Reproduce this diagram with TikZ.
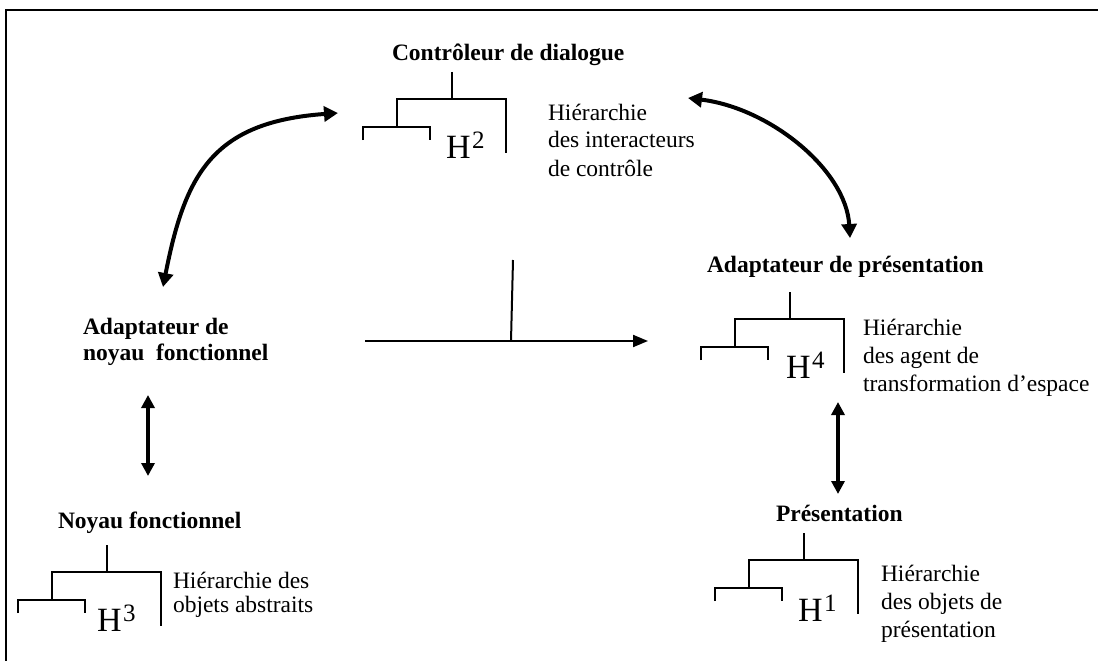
\documentclass[tikz,border=0pt]{standalone}
\usepackage{fontspec}
\setmainfont{Liberation Serif}
\usetikzlibrary{arrows.meta}
\newcommand\Hlab[1]{{\fontsize{34}{34}\selectfont H}\kern1.5pt\raisebox{10pt}{\fontsize{25}{25}\selectfont #1}}
\begin{document}
\begin{tikzpicture}[x=1pt,y=-1pt,
  every node/.style={inner sep=0pt, outer sep=0pt},
  title/.style={anchor=base west, font=\fontsize{23.5}{26}\selectfont\bfseries},
  desc/.style={anchor=base west, font=\fontsize{23.5}{28}\selectfont},
  hlabel/.style={anchor=base west},
  branch/.style={line width=2pt},
  frameline/.style={line width=2pt},
  bigarrow/.style={line width=4pt, {Triangle[length=14pt,width=15pt]}-{Triangle[length=14pt,width=15pt]}},
  vertarrow/.style={line width=3.5pt, {Triangle[length=13pt,width=13pt]}-{Triangle[length=13pt,width=13pt]}},
  flowarrow/.style={line width=2pt, -{Triangle[length=15pt,width=12pt]}},
  hier/.pic={
    \draw[branch] (0,0) -- (0,27);
    \draw[branch] (-55,55) -- (-55,27) -- (54,27) -- (54,81);
    \draw[branch] (-89,68) -- (-89,55) -- (-22,55) -- (-22,68);
  }
]
\useasboundingbox (0,0) rectangle (1098,661);
% frame
\draw[frameline] (6,661) -- (6,10) -- (1098,10);

% titles
\node[title] (ctrl) at (392,60) {Contrôleur de dialogue};
\node[title] (adpres) at (707,272) {Adaptateur de présentation};
\node[title] (adnf) at (83,334) {\begin{tabular}[t]{@{}l@{}}Adaptateur de\\noyau~ fonctionnel\end{tabular}};
\node[title] (nf) at (58,528) {Noyau fonctionnel};
\node[title] (pres) at (776,521) {Présentation};

% hierarchies
\pic at (452,72) {hier};
\pic at (790,292) {hier};
\pic at (804,533) {hier};
\pic at (107,545) {hier};

\node[hlabel] (h2) at (446,158) {\Hlab{2}};
\node[hlabel] (h4) at (786,378) {\Hlab{4}};
\node[hlabel] (h1) at (798,621) {\Hlab{1}};
\node[hlabel] (h3) at (97,631) {\Hlab{3}};

% descriptions
\node[desc] (d2) at (548,120) {\begin{tabular}[t]{@{}l@{}}Hiérarchie\\des interacteurs\\de contrôle\end{tabular}};
\node[desc] (d4) at (863,335) {\begin{tabular}[t]{@{}l@{}}Hiérarchie\\des agent de\\transformation d’espace\end{tabular}};
\node[desc] (d1) at (881,581) {\begin{tabular}[t]{@{}l@{}}Hiérarchie\\des objets de\\présentation\end{tabular}};
\node[desc, font=\fontsize{23.5}{24}\selectfont] (d3) at (173,588) {\begin{tabular}[t]{@{}l@{}}Hiérarchie des\\objets abstraits\end{tabular}};

% connectors
\coordinate (la) at (163,287);
\coordinate (lb) at (338,113);
\draw[bigarrow] (la) .. controls (185,175) and (212,122) .. (lb);

\coordinate (ra) at (688,98);
\coordinate (rb) at (850,238);
\draw[bigarrow] (ra) .. controls (770,108) and (846,170) .. (rb);

\coordinate (va) at (148,395);
\coordinate (vb) at (148,476);
\draw[vertarrow] (va) -- (vb);

\coordinate (wa) at (838,402);
\coordinate (wb) at (838,494);
\draw[vertarrow] (wa) -- (wb);

\coordinate (fa) at (365,341);
\coordinate (fb) at (648,341);
\coordinate (fm) at (511,341);
\coordinate (ft) at (513,260);
\draw[flowarrow] (fa) -- (fb);
\draw[branch] (ft) -- (fm);
\end{tikzpicture}
\end{document}
